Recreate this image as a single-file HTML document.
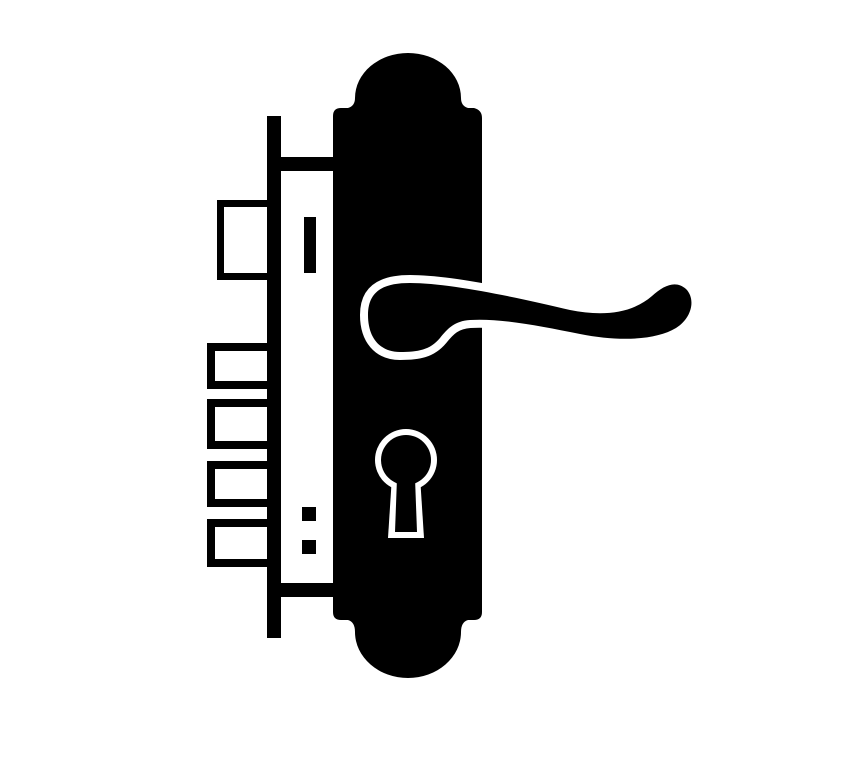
<!DOCTYPE html>
<html><head><meta charset="utf-8"><style>html,body{margin:0;padding:0;background:#fff;}svg{display:block;}</style></head>
<body>
<svg width="856" height="778" viewBox="0 0 856 778" xmlns="http://www.w3.org/2000/svg">
<rect width="856" height="778" fill="#fff"/>
<!-- faceplate -->
<rect x="267" y="116" width="14" height="522" fill="#000"/>
<rect x="281" y="157" width="55" height="14" fill="#000"/>
<rect x="281" y="583" width="55" height="14" fill="#000"/>
<!-- deadbolt -->
<rect x="220.5" y="203.5" width="50" height="73" fill="none" stroke="#000" stroke-width="7"/>
<rect x="304" y="217" width="12" height="56" fill="#000"/>
<!-- bolts -->
<rect x="211" y="347" width="60" height="38" fill="none" stroke="#000" stroke-width="8"/>
<rect x="211" y="403" width="60" height="42" fill="none" stroke="#000" stroke-width="8"/>
<rect x="211" y="465" width="60" height="38" fill="none" stroke="#000" stroke-width="8"/>
<rect x="211" y="523" width="60" height="40" fill="none" stroke="#000" stroke-width="8"/>
<rect x="302" y="507" width="14" height="14" fill="#000"/>
<rect x="302" y="540" width="14" height="14" fill="#000"/>
<!-- body plate -->
<path d="M341 108 L348 108 Q355 106 355 98 A53 45 0 0 1 461 98 Q461 106 468 108 L474 108 Q482 110 482 118 L482 612 Q482 620 474 620 L468 620 Q461 622 461 632 A53 46 0 0 1 355 632 Q355 622 348 620 L341 620 Q333 620 333 612 L333 116 Q333 108 341 108 Z" fill="#000"/>
<!-- handle -->
<g>
<path d="M368 315 C368 290 385 283 410 283 C450 283 520 298 570 310 C600 316 630 315 652 296 C664 285 676 280 686 289 C696 299 692 318 676 328 C656 340 620 342 580 334 C540 326 500 318 470 320 C455 321 448 328 440 338 C430 350 418 352 400 352 C380 352 368 338 368 315 Z" fill="#fff" stroke="#fff" stroke-width="16" stroke-linejoin="round"/>
<path d="M368 315 C368 290 385 283 410 283 C450 283 520 298 570 310 C600 316 630 315 652 296 C664 285 676 280 686 289 C696 299 692 318 676 328 C656 340 620 342 580 334 C540 326 500 318 470 320 C455 321 448 328 440 338 C430 350 418 352 400 352 C380 352 368 338 368 315 Z" fill="#000"/>
</g>
<!-- keyhole -->
<circle cx="406" cy="460" r="31" fill="#fff"/>
<path d="M392 476 L388 538 L424 538 L420 476 Z" fill="#fff"/>
<circle cx="406" cy="460" r="25" fill="#000"/>
<path d="M397 478 L395 532 L417 532 L415 478 Z" fill="#000"/>
</svg>
</body></html>
